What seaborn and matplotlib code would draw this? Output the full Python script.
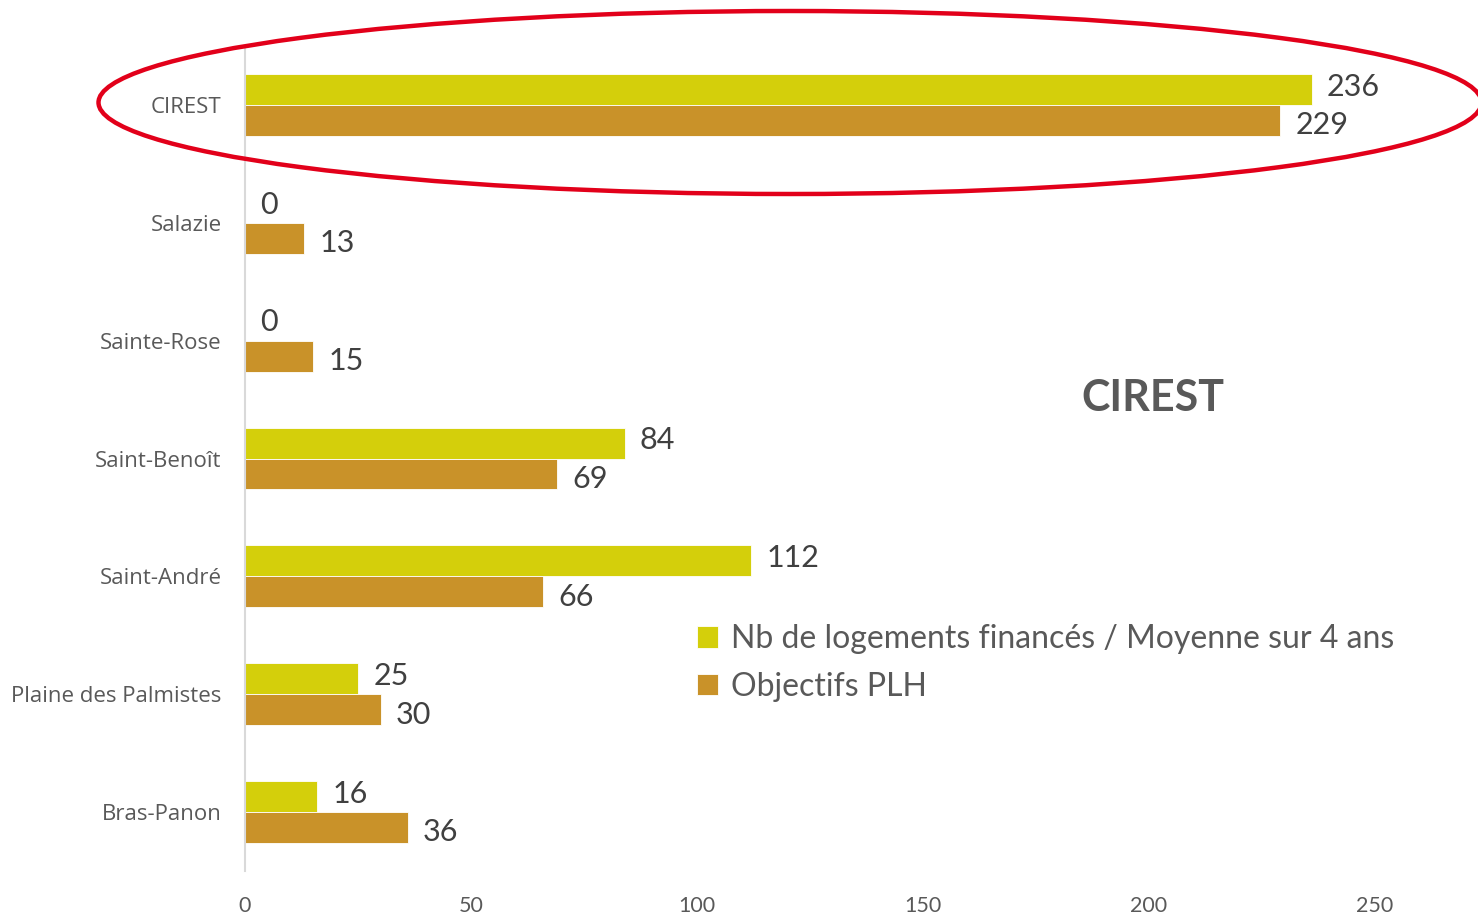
import matplotlib
matplotlib.use("Agg")
import matplotlib.pyplot as plt
from matplotlib.patches import Ellipse
import seaborn as sns
import pandas as pd

communes = ["CIREST", "Salazie", "Sainte-Rose", "Saint-Benoît", "Saint-André",
            "Plaine des Palmistes", "Bras-Panon"]
logements = [236, 0, 0, 84, 112, 25, 16]
objectifs = [229, 13, 15, 69, 66, 30, 36]
series = ["Nb de logements financés / Moyenne sur 4 ans", "Objectifs PLH"]
colors = ["#D4CF0B", "#C99229"]
xticks = [0, 50, 100, 150, 200, 250]

df = pd.DataFrame({
    "Commune": communes * 2,
    "Valeur": logements + objectifs,
    "Série": [series[0]] * len(communes) + [series[1]] * len(communes),
})

sns.set_theme(style="white")
plt.rcParams["font.family"] = ["Lato", "DejaVu Sans"]

fig = plt.figure(figsize=(14.78, 9.16), dpi=100)
ax = fig.add_axes([0.1658, 0.0491, 0.8342, 0.9007])

sns.barplot(data=df, y="Commune", x="Valeur", hue="Série", hue_order=series,
            palette=colors, orient="h", width=0.525, saturation=1,
            edgecolor="white", linewidth=0.6, ax=ax)

# green labels a touch above, orange a touch below, as in the source
for container, dy in zip(ax.containers, [2, -3.5]):
    for bar, v in zip(container, container.datavalues):
        ax.annotate(f"{v:.0f}", xy=(bar.get_width(), bar.get_y() + bar.get_height() / 2),
                    xytext=(11, dy), textcoords="offset points", ha="left", va="center",
                    fontsize=22, color="#404040")

ax.set_xlim(0, 272.8)
ax.set_xticks(xticks)
ax.set_xlabel("")
ax.set_ylabel("")
ax.tick_params(axis="y", length=0, pad=17, labelsize=16, labelcolor="#595959")
ax.tick_params(axis="x", length=0, pad=18, labelsize=15.5, labelcolor="#595959")
for lab in ax.get_yticklabels():
    lab.set_family(["Open Sans", "DejaVu Sans"])
for side in ["top", "right", "bottom"]:
    ax.spines[side].set_visible(False)
ax.spines["left"].set_color("#D9D9D9")
ax.spines["left"].set_linewidth(1.5)

ax.legend(loc="upper left", bbox_to_anchor=(0.3666, 0.299), frameon=False,
          fontsize=23, labelcolor="#595959", handlelength=0.65, handleheight=0.65,
          handletextpad=0.4, labelspacing=0.55, borderpad=0, borderaxespad=0)

fig.text(0.780, 0.5655, "CIREST", fontsize=31, fontweight="bold", color="#595959",
         ha="center", va="center")

fig.add_artist(Ellipse((790 / 1478, 1 - 102.5 / 916), 1383 / 1478, 183 / 916,
                       transform=fig.transFigure, fill=False, edgecolor="#E2001A",
                       linewidth=3.2, clip_on=False))

fig.savefig("out.png", dpi=100)
